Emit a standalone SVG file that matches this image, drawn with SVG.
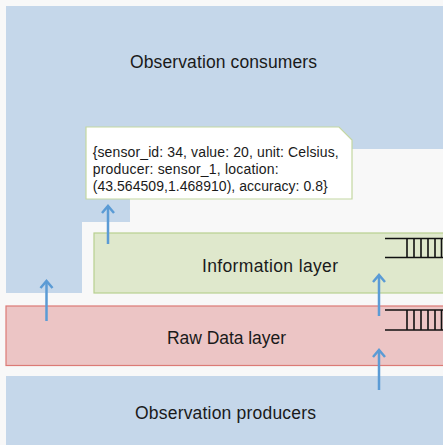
<svg xmlns="http://www.w3.org/2000/svg" width="443" height="445" viewBox="0 0 443 445">
  <style>
    .label { font-family: "Liberation Sans", Arial, sans-serif; font-size: 17.5px; fill: #1a1a1a; text-anchor: middle; }
    .note { font-family: "Liberation Sans", Arial, sans-serif; font-size: 14px; fill: #1a1a1a; }
    .arrow { stroke: #5b9bd5; stroke-width: 2.5; fill: none; marker-end: url(#head); }
    .queue { stroke: #111; stroke-width: 1.6; fill: none; }
  </style>
  <defs>
    <!-- open chevron head; points along the line direction -->
    <marker id="head" viewBox="-2 -2 12 16" refX="7" refY="6" markerWidth="12" markerHeight="16" markerUnits="userSpaceOnUse" orient="auto">
      <polyline points="0,0 7,6 0,12" fill="none" stroke="#5b9bd5" stroke-width="2.5"/>
    </marker>
  </defs>

  <rect width="443" height="445" fill="#f8f8f8"/>

  <!-- consumers zone -->
  <g id="consumers">
    <polygon points="6,6 443,6 443,149 130,149 130,222 82,222 82,293 6,293" fill="#c5d7ea"/>
    <text class="label" x="223.5" y="68" textLength="187">Observation consumers</text>
  </g>

  <!-- sample observation note -->
  <g id="observation-note">
    <polygon points="86,127 339,127 352,140 352,199 86,199" fill="#ffffff" stroke="#c4d7a1" stroke-width="1.2"/>
    <text class="note" x="92.7" y="157" textLength="246">{sensor_id: 34, value: 20, unit: Celsius,</text>
    <text class="note" x="92.7" y="174" textLength="186">producer: sensor_1, location:</text>
    <text class="note" x="92.7" y="191" textLength="235">(43.564509,1.468910), accuracy: 0.8}</text>
  </g>

  <!-- information layer -->
  <g id="information-layer">
    <rect x="94" y="233" width="360" height="60" fill="#dfe8cc" stroke="#b8d08f" stroke-width="1.2"/>
    <text class="label" x="270" y="272" textLength="136">Information layer</text>
    <path class="queue" d="M385,238.5 H443 M385,257.5 H443 M407,238.5 V257.5 M414,238.5 V257.5 M421,238.5 V257.5 M428,238.5 V257.5 M435,238.5 V257.5 M441.5,238.5 V257.5"/>
  </g>

  <!-- raw data layer -->
  <g id="raw-data-layer">
    <rect x="6" y="306" width="450" height="59.5" fill="#ecc5c5" stroke="#dc7a76" stroke-width="1.2"/>
    <text class="label" x="226.5" y="344" textLength="119">Raw Data layer</text>
    <path class="queue" d="M385,310 H443 M385,330 H443 M407,310 V330 M414,310 V330 M421,310 V330 M428,310 V330 M435,310 V330 M441.5,310 V330"/>
  </g>

  <!-- producers zone -->
  <g id="producers">
    <rect x="6" y="376" width="437" height="69" fill="#c5d7ea"/>
    <text class="label" x="225.5" y="419" textLength="181">Observation producers</text>
  </g>

  <!-- data flow -->
  <g id="connectors">
    <line class="arrow" x1="108" y1="244" x2="108" y2="206"/>
    <line class="arrow" x1="46.5" y1="321" x2="46.5" y2="281"/>
    <line class="arrow" x1="379" y1="316" x2="379" y2="275"/>
    <line class="arrow" x1="379" y1="390" x2="379" y2="350"/>
  </g>
</svg>
